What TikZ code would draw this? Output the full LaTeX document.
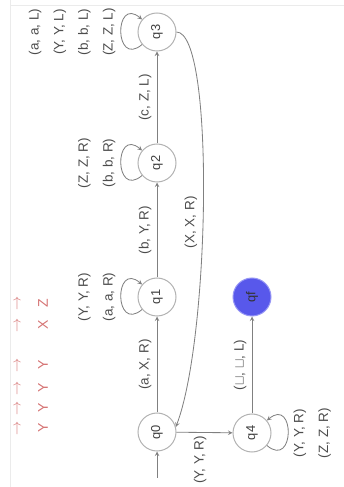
\documentclass[tikz,border=0pt]{standalone}
\usepackage{fontspec}
\setsansfont{Liberation Sans}
\renewcommand{\familydefault}{\sfdefault}
\begin{document}
\begin{tikzpicture}[
        > = stealth,
        x = 0.3mm, y = 0.3mm,
        line width = 0.25mm,
        state/.style = {circle, draw = black!30, line width = 0.3mm, minimum size = 11.4mm, inner sep = 0pt, text = black!75, font = \fontsize{11}{13}\selectfont},
        edge/.style = {->, draw = black!50, line width = 0.25mm},
        self/.style = {loop, looseness = 1, min distance = 11mm},
        lbl/.style = {rotate = 90, text = black!70, align = center, inner xsep = 2.5pt, inner ysep = 4.5pt, font = \fontsize{11.5}{21}\selectfont},
        note/.style = {rotate = 90, text = red!70!black, opacity = 0.55, font = \fontsize{12}{14}\selectfont}
    ]
        \useasboundingbox (0,0) rectangle (344,487);
        \draw[black!8] (10,0) -- (10,487);
        \draw[black!8] (10,482) -- (344,482);
        % states
        \node[state] (q0) at (157,55) {\rotatebox{90}{q0}};
        \node[state] (q1) at (157,190) {\rotatebox{90}{q1}};
        \node[state] (q2) at (157,324) {\rotatebox{90}{q2}};
        \node[state] (q3) at (157,455) {\rotatebox{90}{q3}};
        \node[state] (q4) at (252,54) {\rotatebox{90}{q4}};
        \node[state, fill = {rgb,255:red,88;green,88;blue,235}, draw = {rgb,255:red,150;green,150;blue,245}, text = black!80] (qf) at (252,190) {\rotatebox{90}{qf}};
        \coordinate (start) at (157,9);
        % transitions
        \draw[edge] (start) -- (q0);
        \draw[edge] (q0) -- node[lbl, midway, anchor = south] {(a, X, R)} (q1);
        \draw[edge] (q1) -- node[lbl, midway, anchor = south] {(b, Y, R)} (q2);
        \draw[edge] (q2) -- node[lbl, midway, anchor = south] {(c, Z, L)} (q3);
        \draw[edge] (q3.east) .. controls (215,455) and (210,150) .. node[lbl, pos = 0.55, anchor = south] {(X, X, R)} (q0.15);
        \draw[edge] (q0) -- node[lbl, pos = 0.42, anchor = east] {(Y, Y, R)} (q4);
        \draw[edge] (q4) -- node[lbl, midway, anchor = south] {(\(\sqcup\), \(\sqcup\), L)} (qf);
        % loops
        \draw[edge] (q1) to[self, out = 220, in = 140] node[lbl, anchor = south] {(Y, Y, R)\\(a, a, R)} (q1);
        \draw[edge] (q2) to[self, out = 220, in = 140] node[lbl, anchor = south] {(Z, Z, R)\\(b, b, R)} (q2);
        \draw[edge] (q3) to[self, out = 220, in = 140] node[lbl, anchor = south] {(a, a, L)\\(Y, Y, L)\\(b, b, L)\\(Z, Z, L)} (q3);
        \draw[edge] (q4) to[self, out = -40, in = 40] node[lbl, anchor = north] {(Y, Y, R)\\(Z, Z, R)} (q4);
        % red notes
        \foreach \ypos/\ch in {184/Z, 162/X, 122/Y, 99/Y, 79/Y, 59/Y}
            \node[note] (tape\ypos) at (43,\ypos) {\ch};
        \foreach \ypos in {184, 162, 122, 99, 79, 59}
            \node[note] (head\ypos) at (18,\ypos) {\(\rightarrow\)};
    \end{tikzpicture}
\end{document}
